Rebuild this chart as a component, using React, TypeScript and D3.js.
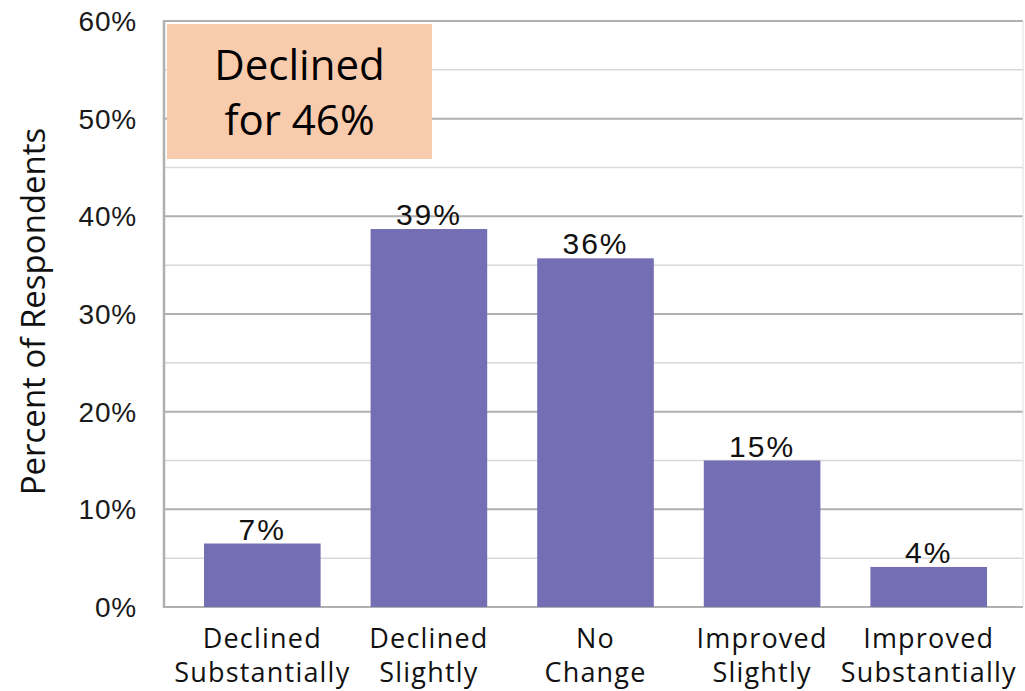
import React, { useEffect, useRef } from 'react';
import * as d3 from 'd3';

const categories = [
  ['Declined', 'Substantially'],
  ['Declined', 'Slightly'],
  ['No', 'Change'],
  ['Improved', 'Slightly'],
  ['Improved', 'Substantially'],
];
const values = [6.5, 38.7, 35.7, 15.0, 4.1];
const valueLabels = ['7%', '39%', '36%', '15%', '4%'];
const majorTicks = [0, 10, 20, 30, 40, 50, 60];
const minorTicks = [5, 15, 25, 35, 45, 55];
const yTitle = 'Percent of Respondents';
const noteLines = ['Declined', 'for 46%'];

const App: React.FC = () => {
  const svgRef = useRef<SVGSVGElement | null>(null);

  useEffect(() => {
    if (!svgRef.current) return;
    const svg = d3.select(svgRef.current);
    svg.selectAll('*').remove();

    const plotLeft = 164;
    const plotRight = 1023;

    const x = d3.scaleBand<number>()
      .domain(d3.range(values.length))
      .range([179, 1012])
      .paddingInner(0.3)
      .paddingOuter(0.15);

    const y = d3.scaleLinear().domain([0, 60]).range([607, 21]);

    // gridlines
    svg.append('g')
      .selectAll('line')
      .data(minorTicks)
      .join('line')
      .attr('x1', plotLeft)
      .attr('x2', plotRight)
      .attr('y1', d => y(d))
      .attr('y2', d => y(d))
      .attr('stroke', '#d9d9d9')
      .attr('stroke-width', 1.5);

    svg.append('g')
      .selectAll('line')
      .data(majorTicks)
      .join('line')
      .attr('x1', plotLeft)
      .attr('x2', plotRight)
      .attr('y1', d => y(d))
      .attr('y2', d => y(d))
      .attr('stroke', '#b0b0b0')
      .attr('stroke-width', 2);

    // right border
    svg.append('line')
      .attr('x1', plotRight).attr('x2', plotRight)
      .attr('y1', y(60)).attr('y2', y(0))
      .attr('stroke', '#e0e0e0').attr('stroke-width', 1);

    // left axis line
    svg.append('line')
      .attr('x1', plotLeft).attr('x2', plotLeft)
      .attr('y1', y(60) - 1).attr('y2', y(0) + 1)
      .attr('stroke', '#b0b0b0').attr('stroke-width', 2.5);

    // y tick labels
    svg.append('g')
      .selectAll('text')
      .data(majorTicks)
      .join('text')
      .attr('x', 137)
      .attr('y', d => y(d) + 10)
      .attr('text-anchor', 'end')
      .attr('font-family', '"Liberation Sans", Arial, sans-serif')
      .attr('font-size', 28)
      .attr('letter-spacing', 0.8)
      .attr('fill', '#1a1a1a')
      .text(d => `${d}%`);

    // bars
    svg.append('g')
      .attr('fill', '#746fb4')
      .selectAll('rect')
      .data(values)
      .join('rect')
      .attr('x', (_, i) => x(i) || 0)
      .attr('y', d => y(d))
      .attr('width', x.bandwidth())
      .attr('height', d => y(0) - y(d));

    // value labels
    svg.append('g')
      .selectAll('text')
      .data(values)
      .join('text')
      .attr('x', (_, i) => (x(i) || 0) + x.bandwidth() / 2)
      .attr('y', d => y(d) - 4)
      .attr('text-anchor', 'middle')
      .attr('font-family', '"Liberation Sans", Arial, sans-serif')
      .attr('font-size', 30)
      .attr('letter-spacing', 2)
      .attr('fill', '#111')
      .text((_, i) => valueLabels[i]);

    // category labels
    const cat = svg.append('g')
      .selectAll('text')
      .data(categories)
      .join('text')
      .attr('text-anchor', 'middle')
      .attr('font-family', '"Open Sans", sans-serif')
      .attr('font-size', 27)
      .attr('letter-spacing', 1.2)
      .attr('fill', '#111');
    cat.each(function (d, i) {
      const cx = (x(i) || 0) + x.bandwidth() / 2;
      d3.select(this).selectAll('tspan')
        .data(d)
        .join('tspan')
        .attr('x', cx)
        .attr('y', (_, j) => 648 + j * 34)
        .text(t => t);
    });

    // y title
    svg.append('text')
      .attr('transform', `translate(45,${(128 + 495) / 2}) rotate(-90)`)
      .attr('text-anchor', 'middle')
      .attr('font-family', '"Open Sans", sans-serif')
      .attr('font-size', 33)
      .attr('fill', '#111')
      .text(yTitle);

    // annotation box
    svg.append('rect')
      .attr('x', 167).attr('y', 24)
      .attr('width', 265).attr('height', 135)
      .attr('fill', '#f8cbad');

    svg.append('g')
      .selectAll('text')
      .data(noteLines)
      .join('text')
      .attr('x', 299.5)
      .attr('y', (_, i) => 80 + i * 55)
      .attr('text-anchor', 'middle')
      .attr('font-family', '"Open Sans", sans-serif')
      .attr('font-size', 42)
      .attr('fill', '#000')
      .text(d => d);
  }, []);

  return (
    <svg
      ref={svgRef}
      width={1025}
      height={691}
      style={{ position: 'absolute', left: 0, top: 0, background: '#fff' }}
    />
  );
};

export default App;
